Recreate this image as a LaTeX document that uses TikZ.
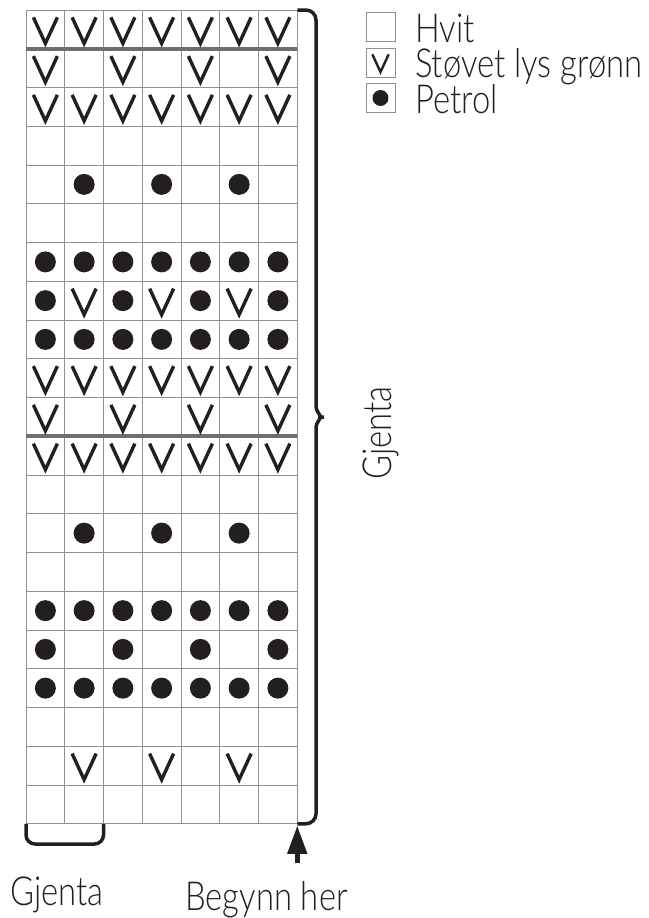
\documentclass[tikz,border=0pt]{standalone}
\usepackage{fontspec}
\setmainfont{Lato}[UprightFont=* Light,FakeStretch=0.82]
\usepackage{tikz}
\usetikzlibrary{arrows.meta,positioning}
\definecolor{ink}{HTML}{231F20}
\definecolor{gridgray}{HTML}{8E9093}
\definecolor{rulegray}{HTML}{6D6E71}
\newcommand{\cellsz}{38.75}
\tikzset{
  vstroke/.style={ink,line width=3.4pt,line join=miter},
  vmark/.pic={\draw[vstroke] (-12,-12) -- (0,14) -- (12,-12);},
  dotmark/.pic={\fill[ink] (0,0) circle[radius=10.5pt];},
  gridline/.style={gridgray,line width=1pt},
  rowrule/.style={rulegray,line width=4pt},
  brace/.style={ink,line width=3.5pt,rounded corners=10pt},
  keybox/.style={draw=gridgray,line width=1pt,minimum size=29pt,inner sep=0pt},
  label/.style={ink,inner sep=0pt},
}

\begin{document}
\begin{tikzpicture}[x=1pt,y=-1pt,font=\fontsize{40}{48}\selectfont]
  \useasboundingbox (0,0) rectangle (648,918);
  \coordinate (gTL) at (26,10);
  \coordinate (gTR) at (297.25,10);
  \coordinate (gBR) at (297.25,823.75);
  \coordinate (gBL) at (26,823.75);
  \foreach \i in {0,...,7}
    \draw[gridline] ({26+\i*\cellsz},10) -- ({26+\i*\cellsz},823.75);
  \foreach \j in {0,...,21}
    \draw[gridline] (26,{10+\j*\cellsz}) -- (297.25,{10+\j*\cellsz});
  \draw[rowrule] (26,{10+\cellsz}) -- (297.25,{10+\cellsz});
  \draw[rowrule] (26,{10+11*\cellsz}) -- (297.25,{10+11*\cellsz});
  \foreach \r/\cols in {1/{1,...,7},2/{1,3,5,7},3/{1,...,7},8/{2,4,6},10/{1,...,7},
                        11/{1,3,5,7},12/{1,...,7},20/{2,4,6}}
    \foreach \c in \cols
      \pic at ({26+(\c-0.5)*\cellsz},{10+(\r-0.5)*\cellsz}) {vmark};
  \foreach \r/\cols in {5/{2,4,6},7/{1,...,7},8/{1,3,5,7},9/{1,...,7},14/{2,4,6},
                        16/{1,...,7},17/{1,3,5,7},18/{1,...,7}}
    \foreach \c in \cols
      \pic at ({26+(\c-0.5)*\cellsz},{10+(\r-0.5)*\cellsz}) {dotmark};
  \draw[brace] (gTR) -- (316,10) -- (316,397)
    .. controls (316,411) and (322,417) .. (330,417)
    .. controls (322,417) and (316,423) .. (316,437) -- (316,823.75) -- (gBR);
  \coordinate (repEnd) at ({26+2*\cellsz},823.75);
  \draw[brace,rounded corners=9pt] (gBL) -- (26,844) -- ({26+2*\cellsz},844) -- (repEnd);
  \coordinate (arrowfoot) at (297.25,863);
  \draw[ink,line width=4.5pt,-{Triangle[width=19pt,length=28pt]},shorten >=2pt] (arrowfoot) -- (gBR);
  \node[label,anchor=base west] (repBottom) at (10,905) {Gjenta};
  \node[label,anchor=base west] (startText) at (185,910) {Begynn her};
  \node[label,anchor=base west,rotate=90] (repSide) at (391,480) {Gjenta};
  \node[keybox] (boxHvit) at (380.5,27) {};
  \node[keybox] (boxStov) at (380.5,62.5) {};
  \node[keybox] (boxPetrol) at (380.5,98) {};
  \pic[scale=0.68,vstroke/.append style={line width=2.4pt}] at (boxStov) {vmark};
  \pic[scale=0.76] at (boxPetrol) {dotmark};
  \node[label,anchor=base west] (txtHvit) at (415,42) {Hvit};
  \node[label,anchor=base west] (txtStov) at (415,77) {Støvet lys grønn};
  \node[label,anchor=base west] (txtPetrol) at (415,113) {Petrol};
\end{tikzpicture}
\end{document}
